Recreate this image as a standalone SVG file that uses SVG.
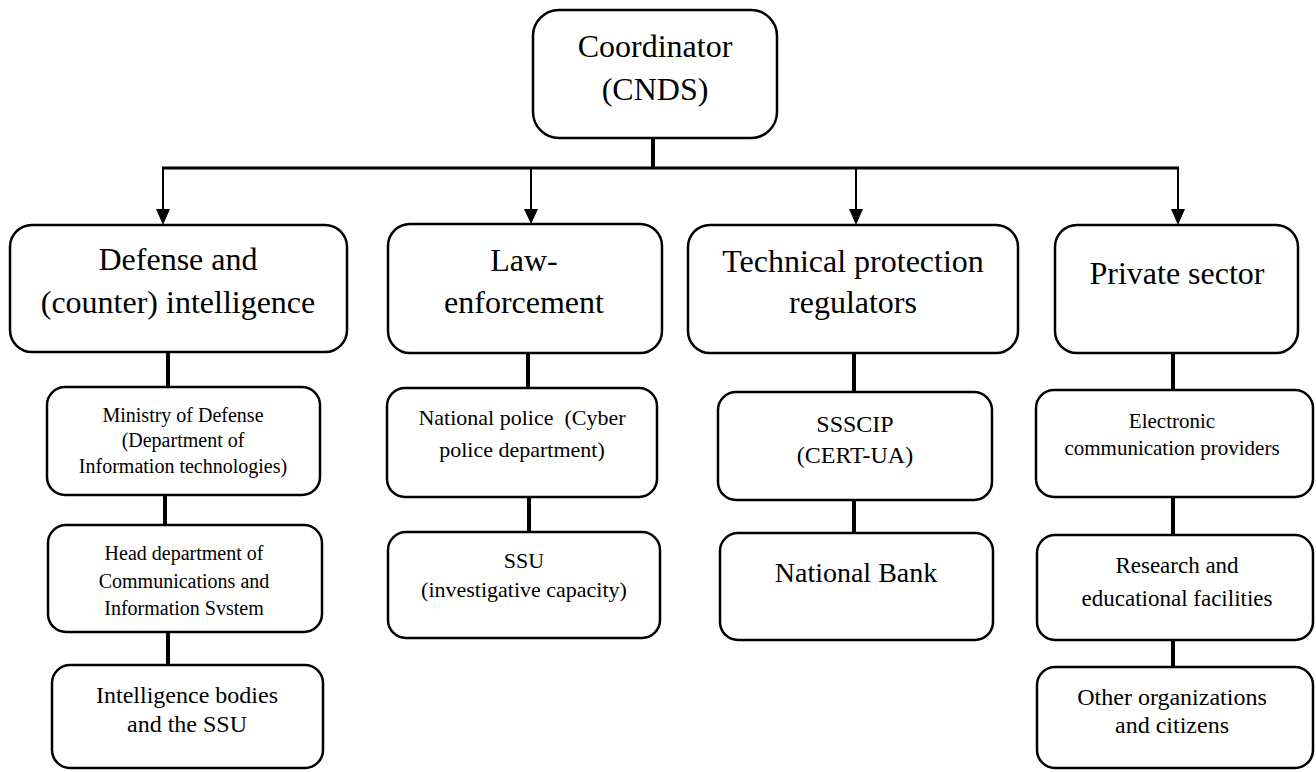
<svg xmlns="http://www.w3.org/2000/svg" width="1316" height="772" viewBox="0 0 1316 772">
  <style>
    .box { fill: #ffffff; stroke: #000000; stroke-width: 2.5; }
    text { font-family: "Liberation Serif", "Times New Roman", serif; fill: #000000; text-anchor: middle; white-space: pre; }
    .t32 { font-size: 32px; }
    .t29 { font-size: 28px; }
    .t24 { font-size: 24px; }
    .t23 { font-size: 23px; }
    .t22 { font-size: 22px; }
    .t21 { font-size: 21px; }
    .t20 { font-size: 20px; }
    .bus { stroke: #000000; stroke-width: 3; fill: none; }
    .drop { stroke: #000000; stroke-width: 2; fill: none; marker-end: url(#arrow); }
    .link { stroke: #000000; stroke-width: 4; fill: none; }
  </style>
  <defs>
    <marker id="arrow" markerUnits="userSpaceOnUse" markerWidth="14" markerHeight="16" viewBox="0 0 14 16" refX="7" refY="16" orient="auto-start-reverse">
      <path d="M0,0 L14,0 L7,16 Z" fill="#000000"/>
    </marker>
    <marker id="arrowDown" markerUnits="userSpaceOnUse" markerWidth="14" markerHeight="16" viewBox="0 0 14 16" refX="7" refY="16">
      <path d="M0,0 L14,0 L7,16 Z" fill="#000000"/>
    </marker>
  </defs>
  <rect width="1316" height="772" fill="#ffffff"/>

  <g id="connectors">
    <line class="link" x1="653" y1="138" x2="653" y2="168"/>
    <line class="bus" x1="162" y1="168" x2="1179" y2="168"/>
    <path d="M163,168 V210" stroke="#000" stroke-width="2" fill="none"/>
    <path d="M163,209 L156,209 L163,225 L170,209 Z" fill="#000"/>
    <path d="M531,168 V210" stroke="#000" stroke-width="2" fill="none"/>
    <path d="M531,209 L524,209 L531,224 L538,209 Z" fill="#000"/>
    <path d="M856,168 V210" stroke="#000" stroke-width="2" fill="none"/>
    <path d="M856,209 L849,209 L856,225 L863,209 Z" fill="#000"/>
    <path d="M1178,168 V210" stroke="#000" stroke-width="2" fill="none"/>
    <path d="M1178,209 L1171,209 L1178,225 L1185,209 Z" fill="#000"/>

    <line class="link" x1="168" y1="352" x2="168" y2="388"/>
    <line class="link" x1="165" y1="495" x2="165" y2="525"/>
    <line class="link" x1="168" y1="632" x2="168" y2="665"/>

    <line class="link" x1="528" y1="353" x2="528" y2="388"/>
    <line class="link" x1="529" y1="497" x2="529" y2="532"/>

    <line class="link" x1="854" y1="353" x2="854" y2="392"/>
    <line class="link" x1="854" y1="500" x2="854" y2="533"/>

    <line class="link" x1="1173" y1="353" x2="1173" y2="390"/>
    <line class="link" x1="1173" y1="497" x2="1173" y2="535"/>
    <line class="link" x1="1173" y1="640" x2="1173" y2="667"/>
  </g>

  <g id="coordinator">
    <rect class="box" x="533" y="10" width="244" height="128" rx="26"/>
    <text class="t32" x="655" y="57">Coordinator</text>
    <text class="t32" x="655" y="100">(CNDS)</text>
  </g>

  <g id="defense">
    <rect class="box" x="10" y="225" width="337" height="127" rx="22"/>
    <text class="t32" x="178" y="270">Defense and</text>
    <text class="t32" x="178" y="313">(counter) intelligence</text>
  </g>
  <g id="law">
    <rect class="box" x="388" y="224" width="274" height="129" rx="22"/>
    <text class="t32" x="524" y="271">Law-</text>
    <text class="t32" x="524" y="313">enforcement</text>
  </g>
  <g id="technical">
    <rect class="box" x="688" y="225" width="330" height="128" rx="22"/>
    <text class="t32" x="853" y="272">Technical protection</text>
    <text class="t32" x="853" y="313">regulators</text>
  </g>
  <g id="private">
    <rect class="box" x="1055" y="225" width="243" height="128" rx="22"/>
    <text class="t32" x="1177" y="284">Private sector</text>
  </g>

  <g id="ministry">
    <rect class="box" x="47" y="387" width="273" height="108" rx="18"/>
    <text class="t20" x="183" y="422">Ministry of Defense</text>
    <text class="t20" x="183" y="447">(Department of</text>
    <text class="t20" x="183" y="473">Information technologies)</text>
  </g>
  <g id="head-dept">
    <rect class="box" x="48" y="525" width="274" height="107" rx="18"/>
    <text class="t20" x="184" y="560">Head department of</text>
    <text class="t20" x="184" y="588">Communications and</text>
    <text class="t20" x="184" y="615">Information Svstem</text>
  </g>
  <g id="intelligence">
    <rect class="box" x="52" y="665" width="271" height="103" rx="18"/>
    <text class="t24" x="187" y="703">Intelligence bodies</text>
    <text class="t24" x="187" y="732">and the SSU</text>
  </g>

  <g id="national-police">
    <rect class="box" x="387" y="388" width="270" height="109" rx="18"/>
    <text class="t22" x="522" y="425">National police  (Cyber</text>
    <text class="t22" x="522" y="457">police department)</text>
  </g>
  <g id="ssu">
    <rect class="box" x="388" y="532" width="272" height="106" rx="18"/>
    <text class="t22" x="524" y="568">SSU</text>
    <text class="t22" x="524" y="597">(investigative capacity)</text>
  </g>

  <g id="ssscip">
    <rect class="box" x="718" y="392" width="274" height="108" rx="18"/>
    <text class="t24" x="855" y="432">SSSCIP</text>
    <text class="t24" x="855" y="463">(CERT-UA)</text>
  </g>
  <g id="national-bank">
    <rect class="box" x="720" y="533" width="273" height="107" rx="18"/>
    <text class="t29" x="856" y="582">National Bank</text>
  </g>

  <g id="electronic">
    <rect class="box" x="1036" y="390" width="277" height="107" rx="18"/>
    <text class="t21" x="1172" y="428">Electronic</text>
    <text class="t21" x="1172" y="455">communication providers</text>
  </g>
  <g id="research">
    <rect class="box" x="1037" y="535" width="276" height="105" rx="18"/>
    <text class="t23" x="1177" y="573">Research and</text>
    <text class="t23" x="1177" y="606">educational facilities</text>
  </g>
  <g id="other">
    <rect class="box" x="1037" y="667" width="276" height="101" rx="18"/>
    <text class="t24" x="1172" y="705">Other organizations</text>
    <text class="t24" x="1172" y="733">and citizens</text>
  </g>
</svg>
